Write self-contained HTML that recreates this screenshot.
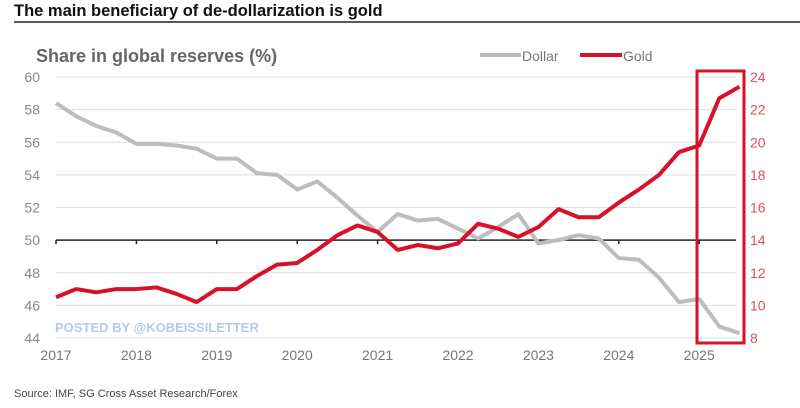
<!DOCTYPE html>
<html><head><meta charset="utf-8"><style>
body{margin:0;background:#fff;width:800px;height:403px;overflow:hidden;font-family:"Liberation Sans",sans-serif}
</style></head><body>
<svg id="c" width="800" height="403" xmlns="http://www.w3.org/2000/svg">
<text x="14" y="16" font-size="16.5" font-weight="bold" fill="#111">The main beneficiary of de-dollarization is gold</text>
<line x1="14" y1="22" x2="800" y2="22" stroke="#222" stroke-width="1.5"/>
<text x="36" y="62" font-size="18" font-weight="bold" fill="#666">Share in global reserves (%)</text>
<g id="legend">
<line x1="480" y1="55" x2="521" y2="55" stroke="#bbb" stroke-width="4"/>
<text x="522" y="61" font-size="14" fill="#777">Dollar</text>
<line x1="580" y1="55" x2="622" y2="55" stroke="#d9102a" stroke-width="4"/>
<text x="623" y="61" font-size="14" fill="#777">Gold</text>
</g>
<g id="grid"></g><g id="axes"></g><g id="series"></g>
<text x="55" y="332" font-size="13" font-weight="bold" fill="#b8c8ea">POSTED BY @KOBEISSILETTER</text>
<rect x="697" y="71" width="47" height="272" fill="none" stroke="#d9102a" stroke-width="3"/>
<text x="14" y="397" font-size="11" fill="#444">Source: IMF, SG Cross Asset Research/Forex</text>
</svg>
<script>
const dollar=[58.4,57.6,57.0,56.6,55.9,55.9,55.8,55.6,55.0,55.0,54.1,54.0,53.1,53.6,52.6,51.5,50.5,51.6,51.2,51.3,50.7,50.1,50.8,51.6,49.8,50.0,50.3,50.1,48.9,48.8,47.7,46.2,46.4,44.7,44.3];
const gold=[10.5,11.0,10.8,11.0,11.0,11.1,10.7,10.2,11.0,11.0,11.8,12.5,12.6,13.4,14.3,14.9,14.5,13.4,13.7,13.5,13.8,15.0,14.7,14.2,14.8,15.9,15.4,15.4,16.3,17.1,18.0,19.4,19.8,22.7,23.4];
const leftTicks=[44,46,48,50,52,54,56,58,60];
const rightTicks=[8,10,12,14,16,18,20,22,24];
const years=[2017,2018,2019,2020,2021,2022,2023,2024,2025];
const NS="http://www.w3.org/2000/svg";
const x0=56,xStep=80.4,yTop=77,yBot=338;
const xq=i=>x0+i*xStep/4;
const yL=v=>yBot-(v-44)/(60-44)*(yBot-yTop);
const yR=v=>yBot-(v-8)/(24-8)*(yBot-yTop);
function mk(tag,attrs,parent){const e=document.createElementNS(NS,tag);for(const k in attrs)e.setAttribute(k,attrs[k]);parent.appendChild(e);return e;}
const grid=document.getElementById('grid'),axes=document.getElementById('axes'),series=document.getElementById('series');
leftTicks.forEach(t=>{
 if(t!==50){const l=mk('line',{x1:56,x2:736,y1:yL(t),y2:yL(t),stroke:'#ddd','stroke-width':1},grid);
 
 }
 const tx=mk('text',{x:40,y:yL(t)+5,'font-size':14,fill:'#888','text-anchor':'end'},axes);tx.textContent=t;
 
 
});
rightTicks.forEach(t=>{
 const tx=mk('text',{x:750,y:yR(t)+5,'font-size':14,fill:'#e0505a'},axes);tx.textContent=t;
 
 
});
const base=mk('line',{x1:56,x2:736,y1:yL(50),y2:yL(50),stroke:'#222','stroke-width':1.5},axes);


years.forEach((y,i)=>{
 const x=x0+i*xStep;
 mk('line',{x1:x,x2:x,y1:yL(50),y2:yL(50)+4,stroke:'#222','stroke-width':1.5},axes);
 const tx=mk('text',{x:x,y:360,'font-size':14,fill:'#777','text-anchor':'middle'},axes);tx.textContent=y;
 
 
});
const dp=mk('polyline',{points:dollar.map((v,i)=>xq(i)+','+yL(v)).join(' '),fill:'none',stroke:'#bdbdbd','stroke-width':4,'stroke-linejoin':'round'},series);


const gp=mk('polyline',{points:gold.map((v,i)=>xq(i)+','+yR(v)).join(' '),fill:'none',stroke:'#d9102a','stroke-width':4,'stroke-linejoin':'round'},series);


</script>
</body></html>
